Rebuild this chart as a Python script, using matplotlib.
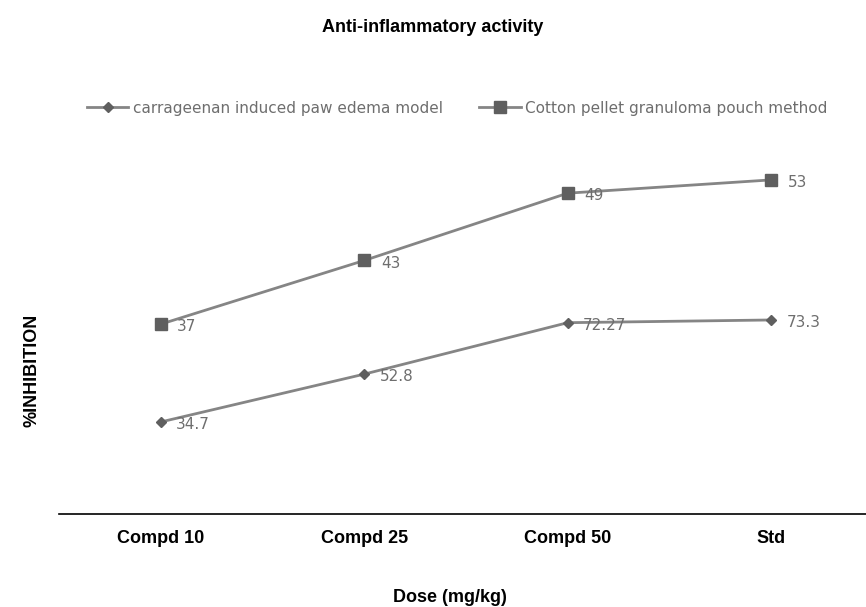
import matplotlib.pyplot as plt
import numpy as np

doses = ["Compd 10", "Compd 25", "Compd 50", "Std"]
carrageenan = [34.7, 52.8, 72.27, 73.3]
cotton = [37, 43, 49, 53]
carr_labels = ["34.7", "52.8", "72.27", "73.3"]
cotton_labels = ["37", "43", "49", "53"]

plt.rcParams['font.family'] = ['Liberation Sans', 'DejaVu Sans']

fig = plt.figure(figsize=(8.66, 6.07), dpi=100)
ax = fig.add_axes([0.068, 0.1537, 0.94, 0.6096])

x = np.arange(len(doses))
# excel stacked line: second series sits on top of the first
stacked = np.array(carrageenan) + np.array(cotton)

line_col = "#858585"
mark_col = "#5f5f5f"
ax.plot(x, carrageenan, color=line_col, lw=2, marker="D", ms=5,
        mfc=mark_col, mec=mark_col, label="carrageenan induced paw edema model")
ax.plot(x, stacked, color=line_col, lw=2, marker="s", ms=9,
        mfc=mark_col, mec=mark_col, label="Cotton pellet granuloma pouch method")

for xi, yi, t in zip(x, carrageenan, carr_labels):
    ax.annotate(t, (xi, yi), xytext=(11, -2), textcoords="offset points",
                va="center", ha="left", fontsize=11, color="#6e6e6e", family="DejaVu Sans")
for xi, yi, t in zip(x, stacked, cotton_labels):
    ax.annotate(t, (xi, yi), xytext=(12, -2), textcoords="offset points",
                va="center", ha="left", fontsize=11, color="#6e6e6e", family="DejaVu Sans")

ax.set_xlim(-0.5, 3.5)
ax.set_ylim(0, 140)
ax.set_xticks(x)
ax.set_xticklabels(doses, fontsize=13, fontweight="bold")
ax.tick_params(axis="x", length=0, pad=12)
ax.set_yticks([])
for s in ["top", "right", "left"]:
    ax.spines[s].set_visible(False)
ax.spines["bottom"].set_linewidth(1.2)

fig.text(0.5, 0.955, "Anti-inflammatory activity", ha="center", va="center",
         fontsize=13, fontweight="bold")
fig.text(0.52, 0.015, "Dose (mg/kg)", ha="center", va="center",
         fontsize=13, fontweight="bold")
fig.text(0.037, 0.39, "%INHIBITION", ha="center", va="center", rotation=90,
         fontsize=13, fontweight="bold")

leg = fig.legend(loc="center", bbox_to_anchor=(0.528, 0.822), ncol=2, frameon=False,
                 fontsize=11, handlelength=2.7, columnspacing=2.4, handletextpad=0.3)
for t in leg.get_texts():
    t.set_color("#6e6e6e")
    t.set_family("DejaVu Sans")

fig.savefig("out.png", dpi=100)
